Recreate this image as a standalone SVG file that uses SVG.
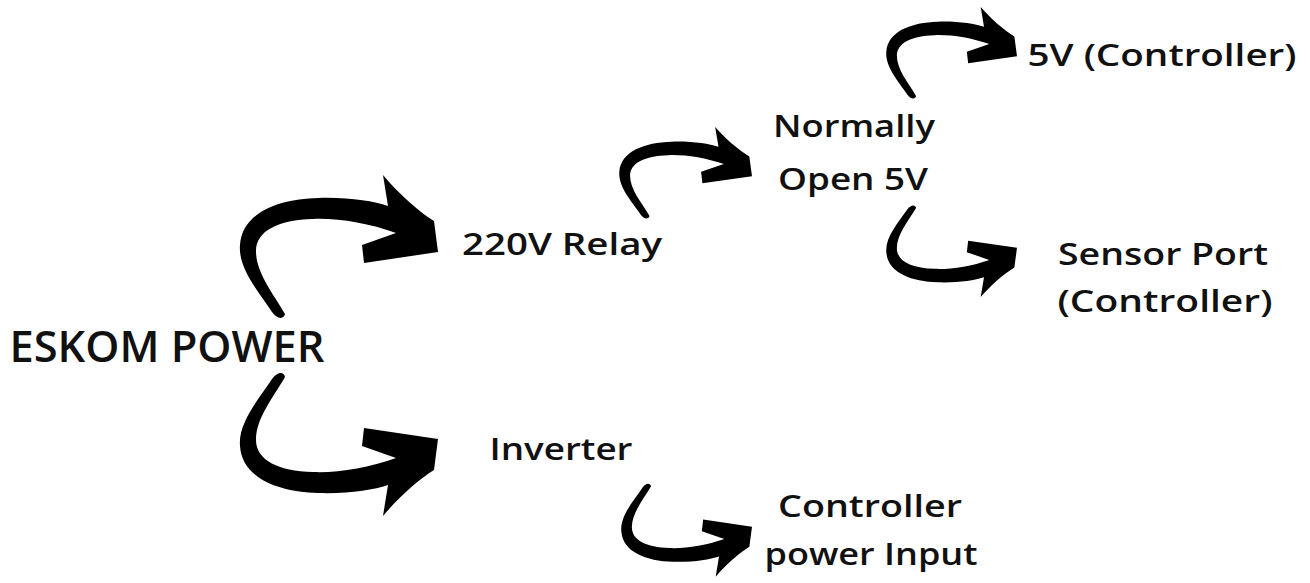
<svg xmlns="http://www.w3.org/2000/svg" width="1310" height="583" viewBox="0 0 1310 583">
<style>
text{font-family:"Open Sans","Liberation Sans",sans-serif;font-weight:600;font-size:31px;fill:#111;text-anchor:middle}
.big{font-size:44px;font-weight:600}
.arr{fill:#000}
</style>
<defs>
<path id="curl" d="M34,139 C20,118 0,95 2,72 C4,40 40,26 80,25 C110,24 135,28 150,33 L145,2 C160,20 180,38 196,48 L200,79 L126,90 L124,72 L158,60 C130,50 100,45 75,46 C40,47 18,58 18,78 C18,100 35,120 47,141 C46,146 40,147 34,139 Z"/>
</defs>
<rect width="1310" height="583" fill="#fff"/>
<g id="connectors">
<use href="#curl" class="arr" transform="translate(238,173)"/>
<use href="#curl" class="arr" transform="translate(238,518) scale(1,-1)"/>
<use href="#curl" class="arr" transform="translate(618,125.7) scale(0.67,0.64)"/>
<use href="#curl" class="arr" transform="translate(885,5.7) scale(0.66,0.64)"/>
<use href="#curl" class="arr" transform="translate(885,298.3) scale(0.66,-0.64)"/>
<use href="#curl" class="arr" transform="translate(620,578) scale(0.66,-0.65)"/>
</g>
<g id="eskom"><text class="big" x="167" y="362" textLength="315" lengthAdjust="spacingAndGlyphs">ESKOM POWER</text></g>
<g id="relay"><text x="562" y="255" textLength="200" lengthAdjust="spacingAndGlyphs">220V Relay</text></g>
<g id="no5v"><text x="854" y="137" textLength="162" lengthAdjust="spacingAndGlyphs">Normally</text><text x="853" y="190" textLength="150" lengthAdjust="spacingAndGlyphs">Open 5V</text></g>
<g id="ctrl5v"><text x="1162" y="66" textLength="269" lengthAdjust="spacingAndGlyphs">5V (Controller)</text></g>
<g id="sensor"><text x="1163" y="265" textLength="210" lengthAdjust="spacingAndGlyphs">Sensor Port</text><text x="1165" y="312" textLength="215" lengthAdjust="spacingAndGlyphs">(Controller)</text></g>
<g id="inverter"><text x="561" y="460" textLength="143" lengthAdjust="spacingAndGlyphs">Inverter</text></g>
<g id="ctrlpower"><text x="870" y="517" textLength="184" lengthAdjust="spacingAndGlyphs">Controller</text><text x="871" y="565" textLength="213" lengthAdjust="spacingAndGlyphs">power Input</text></g>
</svg>
